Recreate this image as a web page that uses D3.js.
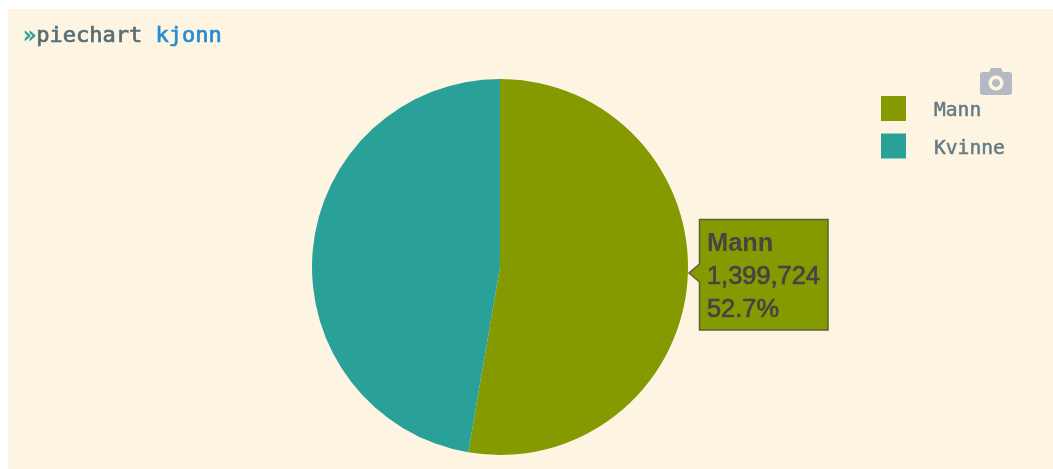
<!DOCTYPE html>
<html><head><meta charset="utf-8">
<script src="https://cdn.jsdelivr.net/npm/d3@7/dist/d3.min.js"></script>
<style>
html,body{margin:0;padding:0;background:#fff;overflow:hidden}
svg{display:block}
</style></head><body>
<svg id="c" width="1053" height="469"></svg>
<script>
const categories = ["Mann", "Kvinne"];
const values = [1399724, 1256300];
const colors = ["#859900", "#2aa198"];
const titlePrefix = "»", titleCommand = "piechart ", titleArg = "kjonn";
const mono = "'DejaVu Sans Mono', monospace";

const svg = d3.select("#c");
svg.append("defs").append("filter").attr("id", "soft")
  .append("feGaussianBlur").attr("stdDeviation", 0.35);
svg.append("rect").attr("x", 8).attr("y", 9).attr("width", 1045).attr("height", 460).attr("fill", "#fdf5e2");

const t = svg.append("text").attr("x", 23).attr("y", 42).attr("font-family", mono)
  .attr("font-size", 22).attr("stroke-width", 0.7).attr("filter", "url(#soft)");
t.append("tspan").attr("fill", "#2aa198").attr("stroke", "#2aa198").text(titlePrefix);
t.append("tspan").attr("fill", "#586e75").attr("stroke", "#586e75").text(titleCommand);
t.append("tspan").attr("fill", "#268bd2").attr("stroke", "#268bd2").text(titleArg);

const color = d3.scaleOrdinal(categories, colors);
const total = d3.sum(values);
const arcs = d3.pie().sort(null).value(d => d.value)(categories.map((c, i) => ({ name: c, value: values[i] })));
const arc = d3.arc().innerRadius(0).outerRadius(188);
svg.append("g").attr("transform", "translate(500,267)").attr("filter", "url(#soft)")
  .selectAll("path").data(arcs).join("path")
  .attr("d", arc).attr("fill", d => color(d.data.name));

// legend
const legend = svg.append("g").attr("filter", "url(#soft)").selectAll("g").data(categories).join("g")
  .attr("transform", (d, i) => `translate(881,${96 + i * 37.5})`);
legend.append("rect").attr("width", 25).attr("height", 25).attr("fill", d => color(d));
legend.append("text").attr("x", 53).attr("y", 20).attr("font-family", mono).attr("font-size", 19.6)
  .attr("fill", "#657b83").attr("stroke", "#657b83").attr("stroke-width", 0.5).text(d => d);

// camera icon
const cam = svg.append("g").attr("transform", "translate(980,67)").attr("filter", "url(#soft)");
cam.append("path").attr("fill", "#b4b9c4").attr("fill-rule", "evenodd")
  .attr("d", "M3,5 H9 L11,1 H21 L23,5 H29 Q32,5 32,8 V25 Q32,28 29,28 H3 Q0,28 0,25 V8 Q0,5 3,5 Z M16,8.5 A7.5,7.5 0 1 0 16.01,8.5 Z M16,12 A4,4 0 1 1 15.99,12 Z");

// tooltip for the first slice
const d0 = arcs[0];
const tip = svg.append("g").attr("transform", "translate(699,219)").attr("filter", "url(#soft)");
tip.append("path")
  .attr("d", "M0.5,0.5 H129 V111 H0.5 V63 L-10,54 L0.5,45 Z")
  .attr("fill", color(d0.data.name)).attr("stroke", "#5c5f3a").attr("stroke-width", 1.5);
const lines = [d0.data.name, d3.format(",")(d0.data.value), d3.format(".1%")(d0.data.value / total)];
tip.selectAll("text").data(lines).join("text")
  .attr("x", 8).attr("y", (d, i) => 32 + i * 33)
  .attr("font-family", "'Liberation Sans', Arial, sans-serif").attr("font-size", 25.4)
  .attr("font-weight", (d, i) => i === 0 ? "bold" : "normal")
  .attr("fill", "#444").attr("stroke", "#444").attr("stroke-width", (d, i) => i === 0 ? 0 : 0.7).text(d => d);
</script>
</body></html>
